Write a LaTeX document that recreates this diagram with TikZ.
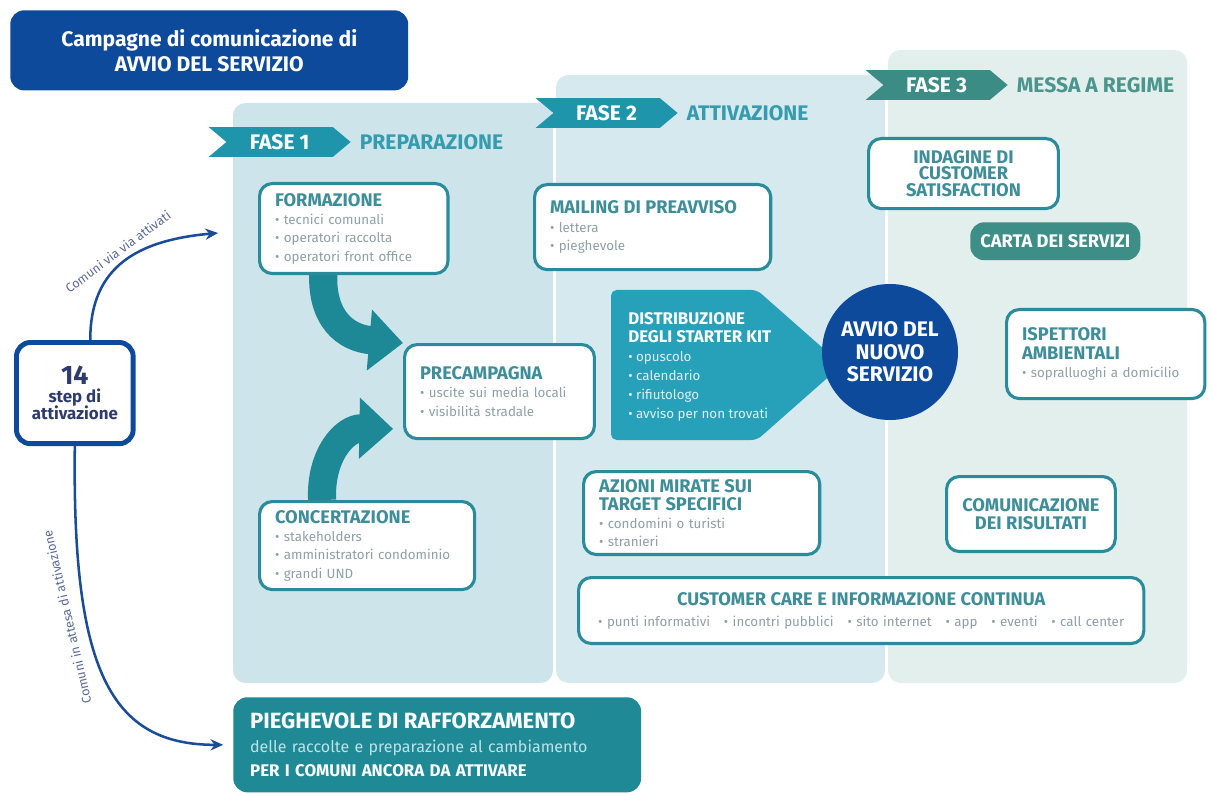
\documentclass[tikz,border=0pt]{standalone}
\usepackage{fontspec}
\setmainfont{Fira Sans}
\usetikzlibrary{positioning,arrows.meta,shapes.symbols}
\definecolor{darkblue}{HTML}{0D4A9C}
\definecolor{arrowblue}{HTML}{1B4C98}
\definecolor{lbltxt}{HTML}{5C6A96}
\definecolor{steptxt}{HTML}{2E3B6E}
\definecolor{panelA}{HTML}{CDE4EA}
\definecolor{panelB}{HTML}{D5E9EE}
\definecolor{panelC}{HTML}{E2EFEC}
\definecolor{tealline}{HTML}{2A8C9B}
\definecolor{headtxt}{HTML}{3E8E9A}
\definecolor{itemtxt}{HTML}{8FA0A6}
\definecolor{fasecol}{HTML}{1F95AC}
\definecolor{fasecolC}{HTML}{3A8C84}
\definecolor{phasetxt}{HTML}{359CB0}
\definecolor{phasetxtC}{HTML}{4A958D}
\definecolor{distcol}{HTML}{27A0BA}
\definecolor{piegcol}{HTML}{1F8A96}
\definecolor{cartacol}{HTML}{3C8E86}
\definecolor{bigteal}{HTML}{1E8996}
\definecolor{piegsub}{HTML}{BDE3E8}
\newcommand\boxhead[1]{{\fontsize{13}{14}\selectfont\bfseries\color{headtxt}#1}}
\newcommand\boxitem[1]{{\color{itemtxt}\textbullet\ #1}}
\begin{document}
\begin{tikzpicture}[x=0.025cm, y=-0.025cm,
    card/.style={draw=tealline, line width=2.2pt, fill=white, rounded corners=9pt,
      anchor=north west, align=left, inner xsep=11pt, font=\fontsize{9.5}{13}\selectfont},
    fasetag/.style={signal, signal from=west, signal to=east, signal pointer angle=80,
      fill=fasecol, text=white, inner sep=0pt, minimum width=101pt, minimum height=21.3pt,
      font=\fontsize{15}{16}\selectfont\bfseries},
    fasename/.style={inner sep=0pt, text=phasetxt, font=\fontsize{15}{16}\selectfont\bfseries},
    bluearrow/.style={draw=arrowblue, line width=1.8pt, -{Stealth[length=9pt,width=8pt]}},
    bigarrow/.style={draw=bigteal, line width=20pt, -{Triangle[length=24pt,width=42pt]}},
    lbl/.style={text=lbltxt, font=\fontsize{9}{10}\selectfont}]
  \useasboundingbox (0,0) rectangle (1212,794);
  \fill[white] (0,0) rectangle (1212,794);
  % phase panels
  \fill[panelC, rounded corners=9pt] (888,50) rectangle (1187,683);
  \fill[panelB, rounded corners=9pt] (556,75) rectangle (885,683);
  \fill[panelA, rounded corners=9pt] (233,103) rectangle (553,683);

  \node[fill=darkblue, rounded corners=10pt, anchor=north west, minimum width=283pt,
    minimum height=57pt, align=center, text=white,
    font=\fontsize{15}{18}\selectfont\bfseries] (title) at (10,10)
    {Campagne di comunicazione di\\AVVIO DEL SERVIZIO};

  \node[fasetag, anchor=west] (fase1) at (226,142) {FASE 1};
  \node[fasename, right=6pt of fase1] (prep) {PREPARAZIONE};
  \node[fasetag, anchor=west] (fase2) at (553,113) {FASE 2};
  \node[fasename, right=6pt of fase2] (attiv) {ATTIVAZIONE};
  \node[fasetag, anchor=west, fill=fasecolC] (fase3) at (883,85) {FASE 3};
  \node[fasename, right=6pt of fase3, text=phasetxtC] (regime) {MESSA A REGIME};

  \node[card, text width=112pt, minimum height=64pt] (form) at (258,182)
    {\boxhead{FORMAZIONE}\\\boxitem{tecnici comunali}\\\boxitem{operatori raccolta}\\\boxitem{operatori front office}};
  \node[card, text width=131pt, minimum height=62.6pt] (conc) at (258,500)
    {\boxhead{CONCERTAZIONE}\\\boxitem{stakeholders}\\\boxitem{amministratori condominio}\\\boxitem{grandi UND}};
  \node[card, text width=113pt, minimum height=66.9pt] (preca) at (403,343)
    {\boxhead{PRECAMPAGNA}\\\boxitem{uscite sui media locali}\\\boxitem{visibilità stradale}};
  \node[card, text width=146pt, minimum height=60.5pt] (mail) at (533,183)
    {\boxhead{MAILING DI PREAVVISO}\\\boxitem{lettera}\\\boxitem{pieghevole}};
  \node[card, text width=146pt, minimum height=59pt] (azioni) at (582,470)
    {\boxhead{AZIONI MIRATE SUI}\\\boxhead{TARGET SPECIFICI}\\\boxitem{condomini o turisti}\\\boxitem{stranieri}};
  \node[card, text width=380pt, minimum height=46.9pt, align=center] (care) at (577,576)
    {\boxhead{CUSTOMER CARE E INFORMAZIONE CONTINUA}\\[2pt]
     \makebox[374pt]{\boxitem{punti informativi}\hfill\boxitem{incontri pubblici}\hfill\boxitem{sito internet}\hfill\boxitem{app}\hfill\boxitem{eventi}\hfill\boxitem{call center}}};

  \node[card, text width=113pt, minimum height=49.8pt, align=center] (indag) at (867,137)
    {\boxhead{INDAGINE DI}\\[-1.5pt]\boxhead{CUSTOMER}\\[-1.5pt]\boxhead{SATISFACTION}};
  \node[fill=cartacol, rounded corners=10pt, anchor=north west, minimum width=120.9pt,
    minimum height=27pt, text=white, font=\fontsize{13}{14}\selectfont\bfseries] (carta) at (970,222)
    {CARTA DEI SERVIZI};
  \node[card, text width=119pt, minimum height=63.3pt] (isp) at (1005,308)
    {\boxhead{ISPETTORI}\\\boxhead{AMBIENTALI}\\\boxitem{sopralluoghi a domicilio}};
  \node[card, text width=98pt, minimum height=53.3pt, align=center] (comris) at (945,475)
    {\boxhead{COMUNICAZIONE}\\\boxhead{DEI RISULTATI}};

  % starter kit arrow and the central circle
  \fill[distcol, rounded corners=4pt] (611,290) -- (757,290) -- (842,365) -- (757,440) -- (611,440) -- cycle;
  \node[anchor=north west, align=left, inner sep=0pt, text=white!85!distcol,
    font=\fontsize{9.5}{13.5}\selectfont] (distr) at (628,312)
    {{\fontsize{12}{13}\selectfont\bfseries\color{white}DISTRIBUZIONE}\\[-0.5pt]
     {\fontsize{12}{13}\selectfont\bfseries\color{white}DEGLI STARTER KIT}\\
     \textbullet\ opuscolo\\\textbullet\ calendario\\\textbullet\ rifiutologo\\\textbullet\ avviso per non trovati};
  \node[circle, fill=darkblue, minimum size=96.7pt, align=center, text=white,
    font=\fontsize{15}{16}\selectfont\bfseries] (avvio) at (890,352)
    {AVVIO DEL\\NUOVO\\SERVIZIO};

  \node[fill=piegcol, rounded corners=10pt, anchor=north west, minimum width=289.5pt,
    minimum height=67.6pt, text width=266pt, inner xsep=12pt, align=left, text=white,
    font=\fontsize{11.4}{17.4}\selectfont] (pieg) at (233,697)
    {{\fontsize{15.7}{17}\selectfont\bfseries PIEGHEVOLE DI RAFFORZAMENTO}\\
     {\color{piegsub}delle raccolte e preparazione al cambiamento}\\
     {\fontsize{12}{14}\selectfont\bfseries PER I COMUNI ANCORA DA ATTIVARE}};

  \node[draw=darkblue, line width=3.5pt, fill=white, rounded corners=10pt, anchor=north west,
    minimum width=83pt, minimum height=72pt, align=center, text=steptxt,
    font=\fontsize{12}{12.5}\selectfont\bfseries] (step) at (14,340)
    {{\fontsize{19}{19}\selectfont 14}\\step di\\attivazione};

  \coordinate (uptip) at (218,233);
  \draw[bluearrow] ([xshift=11pt]step.north) .. controls (90,265) and (140,240) .. (uptip)
    node[lbl, pos=0.5, sloped, above=0.5pt] (donelbl) {Comuni via via attivati};
  \draw[bluearrow, shorten >=7pt] (step.south) .. controls (72,670) and (110,745) .. (pieg.west);
  \node[lbl, rotate=103] (waitlbl) at (67,617) {Comuni in attesa di attivazione};

  \draw[bigarrow] ([xshift=-21.7pt]form.south) .. controls (322,318) and (345,338) .. (preca.north west);
  \draw[bigarrow] ([xshift=-32pt]conc.north) .. controls (320,455) and (345,428) .. ([xshift=-7pt,yshift=8pt]preca.south west);
\end{tikzpicture}
\end{document}
